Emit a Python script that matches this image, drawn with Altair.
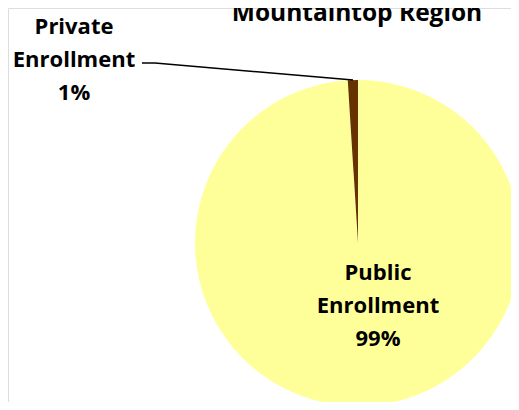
import altair as alt
import pandas as pd

title_text = "Mountaintop Region"
categories = ["Public Enrollment", "Private Enrollment"]
shares = [99, 1]
colors = ["#FFFF99", "#663300"]

# layout (pixels in chart space)
CX, CY, R = 350, 235, 163
FONT = "Open Sans"

pie_df = pd.DataFrame({"category": categories, "share": shares, "order": list(range(len(categories)))})
pie_df["label"] = [c.replace(" ", "\n") + "\n" + f"{s}%" for c, s in zip(categories, shares)]
pie_df["lx"] = [370, 66]
pie_df["ly"] = [265, 19]

pie = alt.Chart(pie_df).mark_arc(outerRadius=R, stroke=None).encode(
    theta=alt.Theta("share:Q", stack=True),
    order=alt.Order("order:Q"),
    color=alt.Color("category:N", scale=alt.Scale(domain=categories, range=colors), legend=None),
    x=alt.value(CX),
    y=alt.value(CY),
)

labels = alt.Chart(pie_df).mark_text(
    font=FONT, fontWeight="bold", fontSize=22, lineBreak="\n", lineHeight=33,
    align="center", baseline="middle", color="black",
).encode(
    x=alt.X("lx:Q", scale=None),
    y=alt.Y("ly:Q", scale=None),
    text="label:N",
)

leader_df = pd.DataFrame({"px": [134, 147, 345], "py": [55, 55, 72], "i": [0, 1, 2]})
leader = alt.Chart(leader_df).mark_line(color="black", strokeWidth=1.5).encode(
    x=alt.X("px:Q", scale=None),
    y=alt.Y("py:Q", scale=None),
    order="i:Q",
)

title_df = pd.DataFrame({"t": [title_text], "tx": [349], "ty": [13]})
title = alt.Chart(title_df).mark_text(
    font=FONT, fontWeight="bold", fontSize=24.5, align="center", baseline="alphabetic", color="black",
).encode(
    x=alt.X("tx:Q", scale=None),
    y=alt.Y("ty:Q", scale=None),
    text="t:N",
)

chart = alt.layer(pie, leader, labels, title).properties(
    width=503, height=394, autosize=alt.AutoSizeParams(type="none"), padding=0,
).configure_view(stroke=None).configure(background="white")

chart.save("out.html", embed_options={"renderer": "svg", "actions": False})
